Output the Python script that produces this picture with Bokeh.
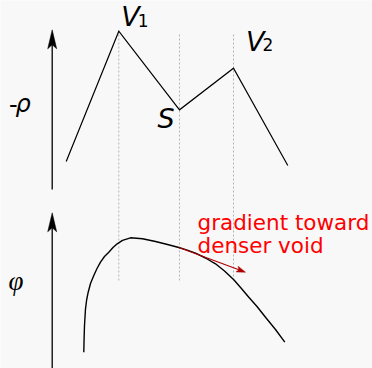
import math
from bokeh.plotting import figure
from bokeh.models import Range1d
from bokeh.core.properties import value
from bokeh.embed import file_html
from bokeh.resources import INLINE

W, H = 372, 368

# ---- data (x = position along the line, y = height on the canvas, measured upward) ----
# upper panel: minus density along the path, two voids V1, V2 and the saddle S
pos = [65.7, 118.3, 179.0, 233.0, 287.3]
neg_rho = [207.0, 337.3, 258.7, 300.3, 203.0]

# lower panel: potential along the same path
phi_x = [83.3, 83.6, 84.0, 85.0, 86.2, 87.7, 90.0, 93.3, 96.5, 100.0, 104.0, 108.3,
         112.5, 116.7, 122.0, 130.0, 142.0, 155.0, 167.0, 178.3, 186.0, 195.0, 205.0,
         215.0, 224.0, 233.3, 240.5, 248.3, 256.5, 265.0, 275.0, 284.3]
phi_y = [16.3, 30.0, 43.0, 59.7, 69.0, 76.3, 85.0, 93.0, 100.0, 106.3, 112.0, 116.3,
         121.0, 124.7, 128.2, 130.7, 129.8, 127.0, 124.0, 121.0, 118.6, 115.3, 110.5,
         104.7, 97.5, 88.7, 80.5, 71.3, 62.0, 51.3, 39.0, 26.3]

# gradient arrow starts on the curve at the saddle and ends here
grad_end = (245.0, 96.3)

# axes (x position, bottom, tip) for the two panels
axis_x = 51.7
rho_axis = (179.0, 338.7)
phi_axis = (0.0, 155.7)
guide_span = (88.0, 336.0)

BG = "#f8f8f8"
FONT = "DejaVu Sans"

p = figure(width=W, height=H, x_range=Range1d(0, W), y_range=Range1d(0, H),
           toolbar_location=None, output_backend="svg", min_border=0)
p.axis.visible = False
p.grid.visible = False
p.outline_line_color = None
p.background_fill_color = BG
p.border_fill_color = BG


def stealth(x0, y0, x1, y1, length, half_w, notch):
    """Arrow head polygon at (x1, y1) pointing away from (x0, y0); returns polygon and line end."""
    dx, dy = x1 - x0, y1 - y0
    d = math.hypot(dx, dy)
    ux, uy = dx / d, dy / d
    nx, ny = -uy, ux
    bx, by = x1 - ux * length, y1 - uy * length
    ix, iy = x1 - ux * (length - notch), y1 - uy * (length - notch)
    xs = [x1, bx + nx * half_w, ix, bx - nx * half_w]
    ys = [y1, by + ny * half_w, iy, by - ny * half_w]
    return xs, ys, (ix, iy)


def arrow(x0, y0, x1, y1, color, lw, length, half_w, notch):
    xs, ys, (ex, ey) = stealth(x0, y0, x1, y1, length, half_w, notch)
    p.line([x0, ex], [y0, ey], line_color=color, line_width=lw)
    p.patch(xs, ys, fill_color=color, line_color=color, line_width=0.5)


# dotted guides through V1, S, V2
gx = pos[1:4]
p.segment(x0=gx, y0=[guide_span[0]] * 3, x1=gx, y1=[guide_span[1]] * 3,
          line_color="#b4b4b4", line_width=1, line_dash="2 2")

# vertical axes
arrow(axis_x, rho_axis[0], axis_x, rho_axis[1], "black", 1.3, 19, 4.5, 4)
arrow(axis_x, phi_axis[0], axis_x, phi_axis[1], "black", 1.3, 19, 4.5, 4)

# density profile
p.line(pos, neg_rho, line_color="black", line_width=1.2, line_join="miter")

# potential profile
p.line(phi_x, phi_y, line_color="black", line_width=1.4, line_join="round")

# gradient arrow from the saddle point on the potential curve
si = phi_x.index(178.3)
arrow(phi_x[si], phi_y[si], grad_end[0], grad_end[1], "#b00000", 1.2, 9, 3, 2)

# point labels (offsets from the vertices)
it = dict(text_font=value(FONT), text_font_style="italic", text_color="black",
          text_baseline="alphabetic", text_align="left")
up = dict(text_font=value(FONT), text_color="black", text_baseline="alphabetic",
          text_align="left")
p.text(x=[pos[1] + 2.5], y=[neg_rho[1] + 15.0], text=["V"], text_font_size="27px", **it)
p.text(x=[pos[1] + 19.0], y=[neg_rho[1] + 10.5], text=["1"], text_font_size="17px", **up)
p.text(x=[pos[3] + 12.5], y=[neg_rho[3] + 27.0], text=["V"], text_font_size="27px", **it)
p.text(x=[pos[3] + 29.0], y=[neg_rho[3] + 23.5], text=["2"], text_font_size="17px", **up)
p.text(x=[pos[2] - 22.0], y=[neg_rho[2] - 9.0], text=["S"], text_font_size="27px", **it)

# axis labels
p.text(x=[8.5], y=[H - 103.0], text=["-"], text_font_size="24px", **up)
p.text(x=[15.0], y=[H - 103.0], text=["ρ"], text_font_size="24px", **it)
p.text(x=[8.0], y=[H - 280.0], text=["φ"], text_font_size="27px",
       text_font=value("Liberation Serif"), text_font_style="italic",
       text_color="black", text_baseline="alphabetic", text_align="left")

# annotation
p.text(x=[197.0, 197.0], y=[H - 221.5, H - 245.0],
       text=["gradient toward", "denser void"], text_font=value(FONT),
       text_font_size="21.5px", text_color="#ff0000", text_baseline="alphabetic",
       text_align="left")

open("out.html", "w").write(file_html(p, INLINE))
